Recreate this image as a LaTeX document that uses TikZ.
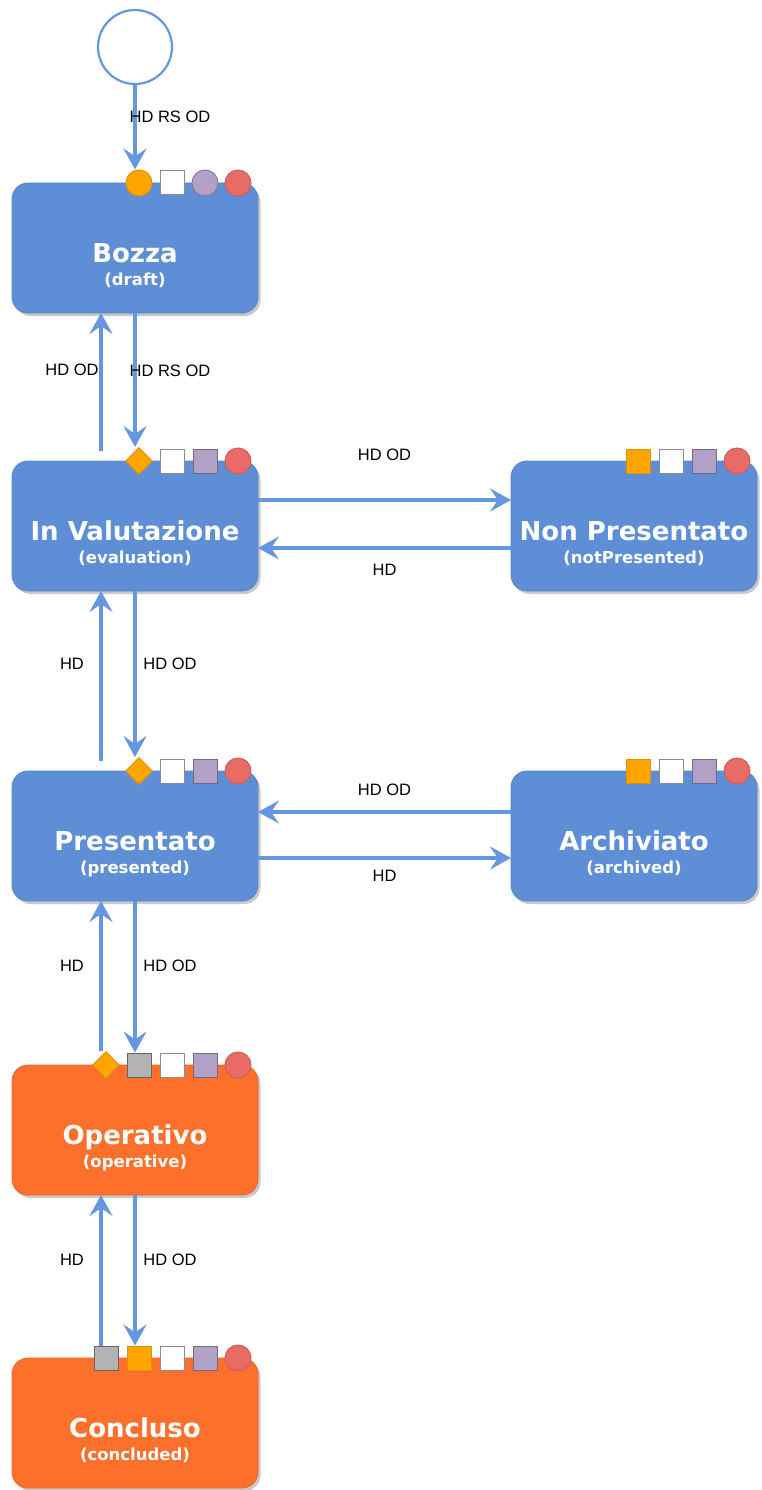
\documentclass[tikz,border=0pt]{standalone}
\usepackage{fontspec}
\setmainfont{Liberation Sans}
\newfontfamily\statefont{DejaVu Sans}
\usetikzlibrary{calc, arrows.meta, shapes.geometric, shadows}
\definecolor{stateblue}{RGB}{94,143,214}
\definecolor{stateorange}{RGB}{252,112,44}
\definecolor{flowblue}{RGB}{101,150,224}
\definecolor{mkorange}{RGB}{255,165,0}
\definecolor{mkpurple}{RGB}{178,161,199}
\definecolor{mkred}{RGB}{233,107,102}
\definecolor{mkgray}{RGB}{179,179,179}

\begin{document}
\begin{tikzpicture}[x=1pt, y=-1pt,
        state/.style={rectangle, rounded corners=16pt, minimum width=246pt, minimum height=130pt,
            inner sep=0pt, outer sep=0pt, fill=#1, draw=#1!92!black, line width=0.8pt,
            drop shadow={shadow xshift=2.5pt, shadow yshift=-3pt, opacity=0.3, fill=black!70}},
        title/.style={text=white, anchor=base, font=\statefont\bfseries\fontsize{26}{30}\selectfont},
        subtitle/.style={text=white, anchor=base, font=\statefont\bfseries\fontsize{16.5}{19}\selectfont},
        lbl/.style={inner sep=1pt, font=\fontsize{16.5}{19}\selectfont},
        flow/.style={draw=flowblue, line width=3.3pt, -{Stealth[length=21pt, width=23pt, inset=8pt]}},
        startnode/.style={circle, minimum size=74pt, inner sep=0pt, fill=white, draw=flowblue, line width=2.2pt},
        mk/.style={inner sep=0pt, line width=1pt},
        dotorange/.style={mk, circle, minimum size=26pt, fill=mkorange, draw=mkorange!88!black},
        dotpurple/.style={mk, circle, minimum size=26pt, fill=mkpurple, draw=mkpurple!75!black},
        dotred/.style={mk, circle, minimum size=26pt, fill=mkred, draw=mkred!88!black},
        sqwhite/.style={mk, rectangle, minimum size=24pt, fill=white, draw=black!45},
        sqpurple/.style={mk, rectangle, minimum size=24pt, fill=mkpurple, draw=mkpurple!65!black},
        sqorange/.style={mk, rectangle, minimum size=24pt, fill=mkorange, draw=mkorange!88!black},
        sqgray/.style={mk, rectangle, minimum size=24pt, fill=mkgray, draw=black!60},
        diaorange/.style={mk, diamond, aspect=1, minimum width=27pt, minimum height=27pt, fill=mkorange, draw=mkorange!88!black}]
    \useasboundingbox (0,0) rectangle (762,1490);

    \node[startnode] (start) at (135,47) {};
    \node[state=stateblue] (bozza) at (135,248) {};
    \node[state=stateblue] (val) at (135,526) {};
    \node[state=stateblue] (nonp) at (634,526) {};
    \node[state=stateblue] (pres) at (135,836) {};
    \node[state=stateblue] (arch) at (634,836) {};
    \node[state=stateorange] (oper) at (135,1130) {};
    \node[state=stateorange] (concl) at (135,1423) {};

    \foreach \n/\t/\s in {bozza/Bozza/draft, val/In Valutazione/evaluation, nonp/Non Presentato/notPresented,
            pres/Presentato/presented, arch/Archiviato/archived, oper/Operativo/operative, concl/Concluso/concluded}{
        \node[title] at ([yshift=-14pt]\n.center) {\t};
        \node[subtitle] at ([yshift=-37pt]\n.center) {(\s)};
    }

    \foreach \n/\ms in {bozza/{dotred,dotpurple,sqwhite,dotorange}, val/{dotred,sqpurple,sqwhite,diaorange},
            nonp/{dotred,sqpurple,sqwhite,sqorange}, pres/{dotred,sqpurple,sqwhite,diaorange},
            arch/{dotred,sqpurple,sqwhite,sqorange}, oper/{dotred,sqpurple,sqwhite,sqgray,diaorange},
            concl/{dotred,sqpurple,sqwhite,sqorange,sqgray}}{
        \foreach \m [count=\k] in \ms
            \node[\m] (\n-\k) at ([xshift=-20pt-33pt*(\k-1)]\n.north east) {};
    }

    \draw[flow] (start) -- (start |- bozza-4.north) node[lbl, pos=.38, xshift=35pt] {HD RS OD};
    \draw[flow] (bozza.south) -- (bozza.south |- val-4.north) node[lbl, pos=.43, xshift=35pt] {HD RS OD};
    \draw[flow] ([xshift=-34pt, yshift=10pt]val.north) -- ([xshift=-34pt]bozza.south) node[lbl, pos=.59, xshift=-29pt] {HD OD};
    \draw[flow] ([yshift=26pt]val.east) -- ([yshift=26pt]nonp.west) node[lbl, midway, yshift=45pt] {HD OD};
    \draw[flow] ([yshift=-22pt]nonp.west) -- ([yshift=-22pt]val.east) node[lbl, midway, yshift=-22pt] {HD};
    \draw[flow] (val.south) -- (val.south |- pres-4.north) node[lbl, pos=.44, xshift=35pt] {HD OD};
    \draw[flow] ([xshift=-34pt, yshift=10pt]pres.north) -- ([xshift=-34pt]val.south) node[lbl, pos=.57, xshift=-29pt] {HD};
    \draw[flow] ([yshift=24pt]arch.west) -- ([yshift=24pt]pres.east) node[lbl, midway, yshift=22pt] {HD OD};
    \draw[flow] ([yshift=-22pt]pres.east) -- ([yshift=-22pt]arch.west) node[lbl, midway, yshift=-18pt] {HD};
    \draw[flow] (pres.south) -- (pres.south |- oper-4.north) node[lbl, pos=.43, xshift=35pt] {HD OD};
    \draw[flow] ([xshift=-34pt]oper.north |- oper-5.north) -- ([xshift=-34pt]pres.south) node[lbl, pos=.57, xshift=-29pt] {HD};
    \draw[flow] (oper.south) -- (oper.south |- concl-4.north) node[lbl, pos=.43, xshift=35pt] {HD OD};
    \draw[flow] ([xshift=-34pt]concl.north |- concl-5.north) -- ([xshift=-34pt]oper.south) node[lbl, pos=.57, xshift=-29pt] {HD};
\end{tikzpicture}
\end{document}
